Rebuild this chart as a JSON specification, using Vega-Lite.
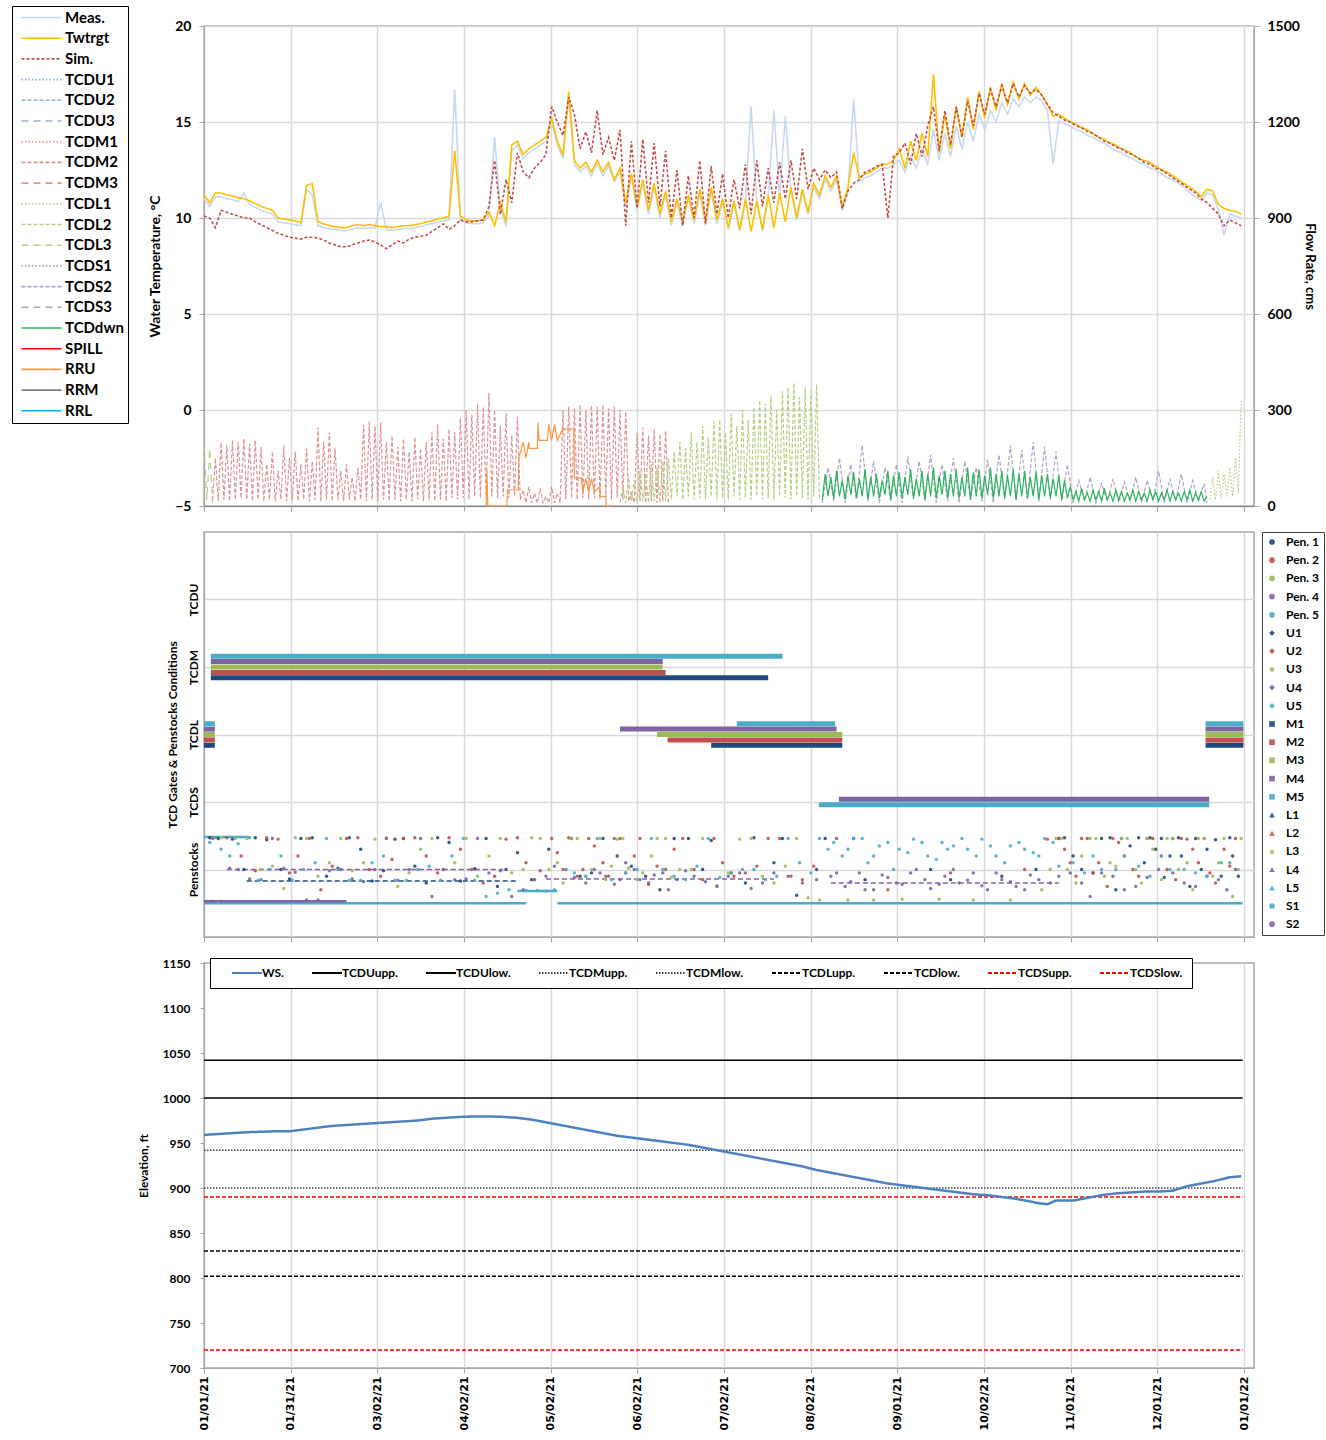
{
"$schema":"https://vega.github.io/schema/vega-lite/v6.json",
"padding":{"left":10,"top":4,"right":0,"bottom":2},
"background":"white",
"bounds":"flush",
"spacing":26,
"config":{
"font":"Lato",
"view":{"stroke":"#A6A6A6","strokeWidth":1.5},
"axis":{"labelFont":"Lato","labelFontWeight":"bold","labelColor":"#000","titleFont":"Lato","titleFontWeight":"bold","titleColor":"#000","gridColor":"#D9D9D9","gridWidth":1.5,"domainColor":"#A6A6A6","tickColor":"#A6A6A6"},
"legend":{"labelFont":"Lato","labelFontWeight":"bold","labelColor":"#000"}
},
"resolve":{"scale":{"x":"independent","y":"independent","color":"independent","strokeDash":"independent","shape":"independent"},"legend":{"color":"independent","strokeDash":"independent","shape":"independent"}},
"vconcat":[
{
"width":1050,"height":480,
"layer":[
{
"data":{"values":[
{"d":0,"Meas":11.0,"Twtrgt":11.2,"Sim":10.1},{"d":2,"Meas":10.6,"Twtrgt":10.8,"Sim":10.0},{"d":4,"Meas":11.1,"Twtrgt":11.3,"Sim":9.5},{"d":6,"Meas":11.1,"Twtrgt":11.3,"Sim":10.4},{"d":8,"Meas":11.0,"Twtrgt":11.2,"Sim":10.3},{"d":10,"Meas":10.95,"Twtrgt":11.15,"Sim":10.2},{"d":12,"Meas":10.85,"Twtrgt":11.05,"Sim":10.1},{"d":14,"Meas":11.3,"Twtrgt":11.0,"Sim":10.0},{"d":16,"Meas":10.7,"Twtrgt":10.9,"Sim":10.0},{"d":18,"Meas":10.55,"Twtrgt":10.75,"Sim":9.8},
{"d":20,"Meas":10.4,"Twtrgt":10.6,"Sim":9.65},{"d":22,"Meas":10.3,"Twtrgt":10.5,"Sim":9.5},{"d":24,"Meas":10.2,"Twtrgt":10.4,"Sim":9.35},{"d":26,"Meas":9.8,"Twtrgt":10.0,"Sim":9.2},{"d":28,"Meas":9.75,"Twtrgt":9.95,"Sim":9.1},{"d":30,"Meas":9.7,"Twtrgt":9.9,"Sim":9.0},{"d":32,"Meas":9.65,"Twtrgt":9.85,"Sim":8.95},{"d":34,"Meas":9.6,"Twtrgt":9.75,"Sim":8.9},{"d":36,"Meas":11.5,"Twtrgt":11.7,"Sim":9.0},{"d":38,"Meas":11.2,"Twtrgt":11.8,"Sim":9.0},
{"d":40,"Meas":9.6,"Twtrgt":9.8,"Sim":8.95},{"d":42,"Meas":9.5,"Twtrgt":9.7,"Sim":8.85},{"d":44,"Meas":9.45,"Twtrgt":9.6,"Sim":8.7},{"d":46,"Meas":9.4,"Twtrgt":9.55,"Sim":8.6},{"d":48,"Meas":9.35,"Twtrgt":9.5,"Sim":8.5},{"d":50,"Meas":9.35,"Twtrgt":9.5,"Sim":8.5},{"d":52,"Meas":9.4,"Twtrgt":9.6,"Sim":8.6},{"d":54,"Meas":9.5,"Twtrgt":9.65,"Sim":8.7},{"d":56,"Meas":9.45,"Twtrgt":9.6,"Sim":8.8},{"d":58,"Meas":9.5,"Twtrgt":9.65,"Sim":8.85},
{"d":60,"Meas":9.45,"Twtrgt":9.6,"Sim":8.75},{"d":62,"Meas":10.8,"Twtrgt":9.55,"Sim":8.6},{"d":64,"Meas":9.4,"Twtrgt":9.55,"Sim":8.4},{"d":66,"Meas":9.35,"Twtrgt":9.5,"Sim":8.6},{"d":68,"Meas":9.4,"Twtrgt":9.55,"Sim":8.8},{"d":70,"Meas":9.45,"Twtrgt":9.6,"Sim":8.7},{"d":72,"Meas":9.45,"Twtrgt":9.6,"Sim":8.9},{"d":74,"Meas":9.5,"Twtrgt":9.65,"Sim":9.0},{"d":76,"Meas":9.55,"Twtrgt":9.7,"Sim":9.05},{"d":78,"Meas":9.65,"Twtrgt":9.8,"Sim":9.1},
{"d":80,"Meas":9.7,"Twtrgt":9.85,"Sim":9.3},{"d":82,"Meas":9.8,"Twtrgt":9.95,"Sim":9.5},{"d":84,"Meas":9.85,"Twtrgt":10.0,"Sim":9.7},{"d":86,"Meas":9.9,"Twtrgt":10.1,"Sim":9.4},{"d":88,"Meas":16.7,"Twtrgt":13.5,"Sim":9.6},{"d":90,"Meas":9.9,"Twtrgt":10.1,"Sim":9.9},{"d":92,"Meas":9.75,"Twtrgt":9.9,"Sim":9.8},{"d":94,"Meas":9.7,"Twtrgt":9.85,"Sim":9.8},{"d":96,"Meas":9.7,"Twtrgt":9.85,"Sim":9.85},{"d":98,"Meas":9.75,"Twtrgt":9.9,"Sim":9.9},
{"d":100,"Meas":10.1,"Twtrgt":10.3,"Sim":10.6},{"d":102,"Meas":14.2,"Twtrgt":9.6,"Sim":13.0},{"d":104,"Meas":10.5,"Twtrgt":10.8,"Sim":10.2},{"d":106,"Meas":9.6,"Twtrgt":9.8,"Sim":12.0},{"d":108,"Meas":13.5,"Twtrgt":13.8,"Sim":10.8},{"d":110,"Meas":13.8,"Twtrgt":14.0,"Sim":13.4},{"d":112,"Meas":13.1,"Twtrgt":13.3,"Sim":12.4},{"d":114,"Meas":13.4,"Twtrgt":13.6,"Sim":12.1},{"d":116,"Meas":13.6,"Twtrgt":13.8,"Sim":12.6},{"d":118,"Meas":13.8,"Twtrgt":14.0,"Sim":12.9},
{"d":120,"Meas":14.0,"Twtrgt":14.2,"Sim":13.3},{"d":122,"Meas":15.0,"Twtrgt":15.2,"Sim":15.8},{"d":124,"Meas":13.8,"Twtrgt":14.0,"Sim":15.0},{"d":126,"Meas":13.1,"Twtrgt":13.3,"Sim":14.3},{"d":128,"Meas":16.2,"Twtrgt":16.6,"Sim":16.3},{"d":130,"Meas":12.8,"Twtrgt":13.0,"Sim":15.4},{"d":132,"Meas":12.4,"Twtrgt":12.6,"Sim":13.6},{"d":134,"Meas":12.7,"Twtrgt":12.9,"Sim":14.5},{"d":136,"Meas":12.2,"Twtrgt":12.4,"Sim":13.4},{"d":138,"Meas":12.8,"Twtrgt":13.0,"Sim":15.6},
{"d":140,"Meas":12.2,"Twtrgt":12.4,"Sim":13.3},{"d":142,"Meas":12.7,"Twtrgt":12.9,"Sim":14.2},{"d":144,"Meas":11.9,"Twtrgt":12.0,"Sim":13.0},{"d":146,"Meas":12.4,"Twtrgt":12.6,"Sim":14.6},{"d":148,"Meas":10.6,"Twtrgt":10.8,"Sim":9.6},{"d":150,"Meas":12.1,"Twtrgt":12.3,"Sim":14.0},{"d":152,"Meas":10.4,"Twtrgt":10.6,"Sim":10.5},{"d":154,"Meas":11.8,"Twtrgt":12.0,"Sim":14.1},{"d":156,"Meas":10.2,"Twtrgt":10.4,"Sim":10.8},{"d":158,"Meas":11.6,"Twtrgt":11.8,"Sim":13.9},
{"d":160,"Meas":10.0,"Twtrgt":10.2,"Sim":10.6},{"d":162,"Meas":11.2,"Twtrgt":11.4,"Sim":13.5},{"d":164,"Meas":9.6,"Twtrgt":9.8,"Sim":10.0},{"d":166,"Meas":10.8,"Twtrgt":11.0,"Sim":12.5},{"d":168,"Meas":9.6,"Twtrgt":9.8,"Sim":9.6},{"d":170,"Meas":11.0,"Twtrgt":11.2,"Sim":12.2},{"d":172,"Meas":9.7,"Twtrgt":9.9,"Sim":10.0},{"d":174,"Meas":11.3,"Twtrgt":11.5,"Sim":13.0},{"d":176,"Meas":9.6,"Twtrgt":9.8,"Sim":9.7},{"d":178,"Meas":11.4,"Twtrgt":11.6,"Sim":12.7},
{"d":180,"Meas":9.7,"Twtrgt":9.9,"Sim":10.2},{"d":182,"Meas":10.8,"Twtrgt":11.0,"Sim":12.3},{"d":184,"Meas":9.4,"Twtrgt":9.5,"Sim":10.0},{"d":186,"Meas":10.7,"Twtrgt":10.9,"Sim":12.0},{"d":188,"Meas":9.3,"Twtrgt":9.4,"Sim":10.5},{"d":190,"Meas":10.8,"Twtrgt":11.0,"Sim":12.8},{"d":192,"Meas":15.8,"Twtrgt":9.3,"Sim":10.2},{"d":194,"Meas":10.8,"Twtrgt":10.9,"Sim":13.0},{"d":196,"Meas":9.3,"Twtrgt":9.4,"Sim":10.6},{"d":198,"Meas":11.0,"Twtrgt":11.2,"Sim":12.6},
{"d":200,"Meas":15.6,"Twtrgt":9.5,"Sim":10.8},{"d":202,"Meas":11.1,"Twtrgt":11.3,"Sim":12.9},{"d":204,"Meas":15.3,"Twtrgt":9.8,"Sim":11.0},{"d":206,"Meas":11.4,"Twtrgt":11.6,"Sim":13.0},{"d":208,"Meas":9.9,"Twtrgt":10.0,"Sim":11.0},{"d":210,"Meas":11.3,"Twtrgt":11.5,"Sim":13.6},{"d":212,"Meas":10.2,"Twtrgt":10.3,"Sim":11.5},{"d":214,"Meas":11.6,"Twtrgt":11.8,"Sim":12.6},{"d":216,"Meas":11.0,"Twtrgt":11.2,"Sim":12.0},{"d":218,"Meas":12.0,"Twtrgt":12.2,"Sim":12.5},
{"d":220,"Meas":11.4,"Twtrgt":11.6,"Sim":12.1},{"d":222,"Meas":12.0,"Twtrgt":12.2,"Sim":12.4},{"d":224,"Meas":10.4,"Twtrgt":10.6,"Sim":10.5},{"d":226,"Meas":11.4,"Twtrgt":11.6,"Sim":11.4},{"d":228,"Meas":16.2,"Twtrgt":13.4,"Sim":11.8},{"d":230,"Meas":11.9,"Twtrgt":12.1,"Sim":12.0},{"d":232,"Meas":12.1,"Twtrgt":12.3,"Sim":12.4},{"d":234,"Meas":12.2,"Twtrgt":12.4,"Sim":12.5},{"d":236,"Meas":12.4,"Twtrgt":12.6,"Sim":12.7},{"d":238,"Meas":12.6,"Twtrgt":12.8,"Sim":12.8},
{"d":240,"Meas":12.6,"Twtrgt":12.8,"Sim":10.0},{"d":242,"Meas":12.8,"Twtrgt":13.0,"Sim":13.2},{"d":244,"Meas":13.0,"Twtrgt":13.6,"Sim":13.4},{"d":246,"Meas":12.4,"Twtrgt":12.6,"Sim":13.9},{"d":248,"Meas":13.2,"Twtrgt":14.0,"Sim":12.8},{"d":250,"Meas":12.6,"Twtrgt":13.0,"Sim":14.4},{"d":252,"Meas":13.6,"Twtrgt":14.4,"Sim":13.2},{"d":254,"Meas":12.8,"Twtrgt":13.2,"Sim":14.8},{"d":256,"Meas":14.6,"Twtrgt":17.5,"Sim":15.8},{"d":258,"Meas":13.0,"Twtrgt":13.4,"Sim":13.5},
{"d":260,"Meas":14.4,"Twtrgt":15.4,"Sim":15.6},{"d":262,"Meas":13.2,"Twtrgt":13.6,"Sim":13.8},{"d":264,"Meas":14.8,"Twtrgt":15.8,"Sim":15.8},{"d":266,"Meas":13.6,"Twtrgt":14.2,"Sim":14.2},{"d":268,"Meas":15.0,"Twtrgt":16.3,"Sim":16.1},{"d":270,"Meas":14.0,"Twtrgt":14.6,"Sim":14.8},{"d":272,"Meas":15.4,"Twtrgt":16.6,"Sim":16.5},{"d":274,"Meas":14.6,"Twtrgt":15.2,"Sim":15.4},{"d":276,"Meas":15.6,"Twtrgt":16.8,"Sim":16.7},{"d":278,"Meas":15.0,"Twtrgt":15.6,"Sim":15.8},
{"d":280,"Meas":16.0,"Twtrgt":17.0,"Sim":16.9},{"d":282,"Meas":15.4,"Twtrgt":15.9,"Sim":16.0},{"d":284,"Meas":16.2,"Twtrgt":17.1,"Sim":17.0},{"d":286,"Meas":15.8,"Twtrgt":16.2,"Sim":16.3},{"d":288,"Meas":16.3,"Twtrgt":17.0,"Sim":16.9},{"d":290,"Meas":16.0,"Twtrgt":16.4,"Sim":16.5},{"d":292,"Meas":16.3,"Twtrgt":16.8,"Sim":16.7},{"d":294,"Meas":16.1,"Twtrgt":16.4,"Sim":16.4},{"d":296,"Meas":15.6,"Twtrgt":15.9,"Sim":15.9},{"d":298,"Meas":12.8,"Twtrgt":15.3,"Sim":15.5},
{"d":300,"Meas":15.1,"Twtrgt":15.4,"Sim":15.3},{"d":302,"Meas":14.9,"Twtrgt":15.2,"Sim":15.1},{"d":304,"Meas":14.8,"Twtrgt":15.0,"Sim":15.0},{"d":306,"Meas":14.6,"Twtrgt":14.9,"Sim":14.8},{"d":308,"Meas":14.5,"Twtrgt":14.7,"Sim":14.7},{"d":310,"Meas":14.3,"Twtrgt":14.6,"Sim":14.5},{"d":312,"Meas":14.2,"Twtrgt":14.4,"Sim":14.4},{"d":314,"Meas":14.0,"Twtrgt":14.2,"Sim":14.2},{"d":316,"Meas":13.9,"Twtrgt":14.1,"Sim":14.0},{"d":318,"Meas":13.7,"Twtrgt":13.9,"Sim":13.9},
{"d":320,"Meas":13.5,"Twtrgt":13.8,"Sim":13.7},{"d":322,"Meas":13.4,"Twtrgt":13.6,"Sim":13.6},{"d":324,"Meas":13.2,"Twtrgt":13.5,"Sim":13.4},{"d":326,"Meas":13.1,"Twtrgt":13.3,"Sim":13.3},{"d":328,"Meas":12.9,"Twtrgt":13.1,"Sim":13.1},{"d":330,"Meas":12.8,"Twtrgt":13.0,"Sim":12.9},{"d":332,"Meas":12.6,"Twtrgt":12.9,"Sim":12.8},{"d":334,"Meas":12.5,"Twtrgt":12.7,"Sim":12.6},{"d":336,"Meas":12.3,"Twtrgt":12.5,"Sim":12.5},{"d":338,"Meas":12.1,"Twtrgt":12.4,"Sim":12.3},
{"d":340,"Meas":12.0,"Twtrgt":12.2,"Sim":12.1},{"d":342,"Meas":11.8,"Twtrgt":12.0,"Sim":11.9},{"d":344,"Meas":11.6,"Twtrgt":11.8,"Sim":11.7},{"d":346,"Meas":11.3,"Twtrgt":11.6,"Sim":11.5},{"d":348,"Meas":11.1,"Twtrgt":11.4,"Sim":11.3},{"d":350,"Meas":10.9,"Twtrgt":11.1,"Sim":11.0},{"d":352,"Meas":11.3,"Twtrgt":11.5,"Sim":10.8},{"d":354,"Meas":11.2,"Twtrgt":11.4,"Sim":10.5},{"d":356,"Meas":10.4,"Twtrgt":10.7,"Sim":10.2},{"d":358,"Meas":9.1,"Twtrgt":10.5,"Sim":9.6},
{"d":360,"Meas":10.2,"Twtrgt":10.4,"Sim":9.9},{"d":362,"Meas":10.1,"Twtrgt":10.35,"Sim":9.75},{"d":364,"Meas":10.0,"Twtrgt":10.2,"Sim":9.6}
]},
"transform":[{"fold":["Meas","Twtrgt","Sim"],"as":["k","v"]}],
"mark":{"type":"line","strokeWidth":1.6},
"encoding":{
"x":{"field":"d","type":"quantitative","scale":{"domain":[0,368.5],"nice":false,"zero":false},"axis":{"values":[0,30.4167,60.8333,91.25,121.6667,152.0833,182.5,212.9167,243.3333,273.75,304.1667,334.5833,365],"labels":false,"title":null,"grid":true,"tickSize":5,"domainColor":"#808080"}},
"y":{"field":"v","type":"quantitative","scale":{"domain":[-5,20],"nice":false,"zero":false},"axis":{"orient":"left","values":[-5,0,5,10,15,20],"grid":true,"title":"Water Temperature, °C","labelFontSize":14,"titleFontSize":14,"tickSize":5,"labelPadding":8,"titlePadding":12}},
"color":{"field":"k","type":"nominal","scale":{"domain":["Meas","Twtrgt","Sim","TCDU1","TCDU2","TCDU3","TCDM1","TCDM2","TCDM3","TCDL1","TCDL2","TCDL3","TCDS1","TCDS2","TCDS3","TCDdwn","SPILL","RRU","RRM","RRL"],"range":["#C6D9F0","#FFC000","#C0504D","#95B3D7","#95B3D7","#95B3D7","#D99694","#D99694","#D99694","#B5CF82","#B5CF82","#B5CF82","#B3A2C7","#B3A2C7","#B3A2C7","#2DB35F","#FF0000","#F79646","#7F7F7F","#00B0F0"]},"legend":{"orient":"none","legendX":-192,"legendY":-20,"title":null,"strokeColor":"#000","fillColor":"#fff","padding":4,"symbolType":"M-5,0L5,0","symbolSize":64,"symbolOffset":18,"labelOffset":16,"symbolStrokeWidth":1.6,"labelFontSize":15,"rowPadding":4.7,"labelExpr":"datum.label == 'Meas' ? 'Meas.' : (datum.label == 'Sim' ? 'Sim.' : datum.label)"}},
"strokeDash":{"field":"k","type":"nominal","scale":{"domain":["Meas","Twtrgt","Sim","TCDU1","TCDU2","TCDU3","TCDM1","TCDM2","TCDM3","TCDL1","TCDL2","TCDL3","TCDS1","TCDS2","TCDS3","TCDdwn","SPILL","RRU","RRM","RRL"],"range":[[1,0],[1,0],[3,2],[1.5,2],[4,2],[7,5],[1.5,2],[4,2],[7,5],[1.5,2],[4,2],[7,5],[1.5,2],[4,2],[7,5],[1,0],[1,0],[1,0],[1,0],[1,0]]},"legend":{"orient":"none","legendX":-192,"legendY":-20,"title":null,"strokeColor":"#000","fillColor":"#fff","padding":4,"symbolType":"M-5,0L5,0","symbolSize":64,"symbolOffset":18,"labelOffset":16,"symbolStrokeWidth":1.6,"labelFontSize":15,"rowPadding":4.7,"labelExpr":"datum.label == 'Meas' ? 'Meas.' : (datum.label == 'Sim' ? 'Sim.' : datum.label)"}}
}
},
{
"data":{"values":[
{"d":0,"k":"TCDL3","f":190},{"d":1,"k":"TCDL3","f":20},{"d":2,"k":"TCDL3","f":180},{"d":3,"k":"TCDL3","f":10},
{"d":3,"k":"TCDM2","f":20},{"d":4,"k":"TCDM2","f":150},{"d":5,"k":"TCDM2","f":15},{"d":6,"k":"TCDM2","f":198},{"d":7,"k":"TCDM2","f":20},{"d":8,"k":"TCDM2","f":190},{"d":9,"k":"TCDM2","f":15},{"d":10,"k":"TCDM2","f":205},{"d":11,"k":"TCDM2","f":20},{"d":12,"k":"TCDM2","f":200},{"d":13,"k":"TCDM2","f":25},{"d":14,"k":"TCDM2","f":210},{"d":15,"k":"TCDM2","f":20},{"d":16,"k":"TCDM2","f":195},{"d":17,"k":"TCDM2","f":15},{"d":18,"k":"TCDM2","f":205},{"d":19,"k":"TCDM2","f":20},{"d":20,"k":"TCDM2","f":185},
{"d":21,"k":"TCDM2","f":15},{"d":22,"k":"TCDM2","f":130},{"d":23,"k":"TCDM2","f":20},{"d":24,"k":"TCDM2","f":170},{"d":25,"k":"TCDM2","f":15},{"d":26,"k":"TCDM2","f":110},{"d":27,"k":"TCDM2","f":20},{"d":28,"k":"TCDM2","f":190},{"d":29,"k":"TCDM2","f":15},{"d":30,"k":"TCDM2","f":150},{"d":31,"k":"TCDM2","f":20},{"d":32,"k":"TCDM2","f":170},{"d":33,"k":"TCDM2","f":15},{"d":34,"k":"TCDM2","f":130},{"d":35,"k":"TCDM2","f":20},{"d":36,"k":"TCDM2","f":180},{"d":37,"k":"TCDM2","f":15},{"d":38,"k":"TCDM2","f":140},{"d":39,"k":"TCDM2","f":20},{"d":40,"k":"TCDM2","f":245},
{"d":41,"k":"TCDM2","f":15},{"d":42,"k":"TCDM2","f":200},{"d":43,"k":"TCDM2","f":20},{"d":44,"k":"TCDM2","f":230},{"d":45,"k":"TCDM2","f":15},{"d":46,"k":"TCDM2","f":180},{"d":47,"k":"TCDM2","f":20},{"d":48,"k":"TCDM2","f":110},{"d":49,"k":"TCDM2","f":15},{"d":50,"k":"TCDM2","f":130},{"d":51,"k":"TCDM2","f":20},{"d":52,"k":"TCDM2","f":90},{"d":53,"k":"TCDM2","f":15},{"d":54,"k":"TCDM2","f":120},{"d":55,"k":"TCDM2","f":20},{"d":56,"k":"TCDM2","f":255},{"d":57,"k":"TCDM2","f":15},{"d":58,"k":"TCDM2","f":265},{"d":59,"k":"TCDM2","f":20},{"d":60,"k":"TCDM2","f":250},
{"d":61,"k":"TCDM2","f":15},{"d":62,"k":"TCDM2","f":260},{"d":63,"k":"TCDM2","f":20},{"d":64,"k":"TCDM2","f":200},{"d":65,"k":"TCDM2","f":15},{"d":66,"k":"TCDM2","f":220},{"d":67,"k":"TCDM2","f":20},{"d":68,"k":"TCDM2","f":185},{"d":69,"k":"TCDM2","f":15},{"d":70,"k":"TCDM2","f":210},{"d":71,"k":"TCDM2","f":20},{"d":72,"k":"TCDM2","f":170},{"d":73,"k":"TCDM2","f":15},{"d":74,"k":"TCDM2","f":215},{"d":75,"k":"TCDM2","f":20},{"d":76,"k":"TCDM2","f":180},{"d":77,"k":"TCDM2","f":15},{"d":78,"k":"TCDM2","f":200},{"d":79,"k":"TCDM2","f":20},{"d":80,"k":"TCDM2","f":230},
{"d":81,"k":"TCDM2","f":15},{"d":82,"k":"TCDM2","f":255},{"d":83,"k":"TCDM2","f":20},{"d":84,"k":"TCDM2","f":210},{"d":85,"k":"TCDM2","f":15},{"d":86,"k":"TCDM2","f":240},{"d":87,"k":"TCDM2","f":25},{"d":88,"k":"TCDM2","f":230},{"d":89,"k":"TCDM2","f":20},{"d":90,"k":"TCDM2","f":275},{"d":91,"k":"TCDM2","f":25},{"d":92,"k":"TCDM2","f":300},{"d":93,"k":"TCDM2","f":20},{"d":94,"k":"TCDM2","f":285},{"d":95,"k":"TCDM2","f":30},{"d":96,"k":"TCDM2","f":318},{"d":97,"k":"TCDM2","f":25},{"d":98,"k":"TCDM2","f":310},{"d":99,"k":"TCDM2","f":30},{"d":100,"k":"TCDM2","f":354},
{"d":101,"k":"TCDM2","f":30},{"d":102,"k":"TCDM2","f":300},{"d":103,"k":"TCDM2","f":25},{"d":104,"k":"TCDM2","f":250},{"d":105,"k":"TCDM2","f":30},{"d":106,"k":"TCDM2","f":290},{"d":107,"k":"TCDM2","f":25},{"d":108,"k":"TCDM2","f":220},{"d":109,"k":"TCDM2","f":30},{"d":110,"k":"TCDM2","f":280},{"d":111,"k":"TCDM2","f":20},{"d":112,"k":"TCDM2","f":50},{"d":113,"k":"TCDM2","f":10},{"d":114,"k":"TCDM2","f":60},{"d":115,"k":"TCDM2","f":10},{"d":116,"k":"TCDM2","f":40},{"d":117,"k":"TCDM2","f":10},{"d":118,"k":"TCDM2","f":55},{"d":119,"k":"TCDM2","f":10},{"d":120,"k":"TCDM2","f":30},
{"d":121,"k":"TCDM2","f":10},{"d":122,"k":"TCDM2","f":60},{"d":123,"k":"TCDM2","f":10},{"d":124,"k":"TCDM2","f":40},{"d":125,"k":"TCDM2","f":10},{"d":126,"k":"TCDM2","f":300},{"d":127,"k":"TCDM2","f":20},{"d":128,"k":"TCDM2","f":310},{"d":129,"k":"TCDM2","f":25},{"d":130,"k":"TCDM2","f":305},{"d":131,"k":"TCDM2","f":20},{"d":132,"k":"TCDM2","f":318},{"d":133,"k":"TCDM2","f":25},{"d":134,"k":"TCDM2","f":300},{"d":135,"k":"TCDM2","f":20},{"d":136,"k":"TCDM2","f":315},{"d":137,"k":"TCDM2","f":25},{"d":138,"k":"TCDM2","f":310},{"d":139,"k":"TCDM2","f":20},{"d":140,"k":"TCDM2","f":318},
{"d":141,"k":"TCDM2","f":25},{"d":142,"k":"TCDM2","f":305},{"d":143,"k":"TCDM2","f":20},{"d":144,"k":"TCDM2","f":312},{"d":145,"k":"TCDM2","f":25},{"d":146,"k":"TCDM2","f":300},{"d":147,"k":"TCDM2","f":20},{"d":148,"k":"TCDM2","f":295},{"d":149,"k":"TCDM2","f":15},{"d":150,"k":"TCDM2","f":40},{"d":151,"k":"TCDM2","f":10},{"d":152,"k":"TCDM2","f":230},{"d":153,"k":"TCDM2","f":15},{"d":154,"k":"TCDM2","f":245},{"d":155,"k":"TCDM2","f":10},{"d":156,"k":"TCDM2","f":220},{"d":157,"k":"TCDM2","f":15},{"d":158,"k":"TCDM2","f":240},{"d":159,"k":"TCDM2","f":10},{"d":160,"k":"TCDM2","f":225},
{"d":161,"k":"TCDM2","f":15},{"d":162,"k":"TCDM2","f":235},{"d":163,"k":"TCDM2","f":10},
{"d":99,"k":"RRU","f":0},{"d":99.3,"k":"RRU","f":110},{"d":99.6,"k":"RRU","f":0},{"d":106.3,"k":"RRU","f":0},{"d":106.5,"k":"RRU","f":50},{"d":110.3,"k":"RRU","f":50},{"d":110.5,"k":"RRU","f":150},{"d":112,"k":"RRU","f":200},{"d":113,"k":"RRU","f":150},{"d":114,"k":"RRU","f":200},{"d":114.2,"k":"RRU","f":180},{"d":117,"k":"RRU","f":180},{"d":117.2,"k":"RRU","f":260},{"d":117.6,"k":"RRU","f":205},{"d":120.5,"k":"RRU","f":205},{"d":121,"k":"RRU","f":255},{"d":122,"k":"RRU","f":205},{"d":123,"k":"RRU","f":255},{"d":124,"k":"RRU","f":205},{"d":125.8,"k":"RRU","f":240},{"d":129.8,"k":"RRU","f":240},{"d":130,"k":"RRU","f":88},{"d":132.4,"k":"RRU","f":88},{"d":133,"k":"RRU","f":45},{"d":134,"k":"RRU","f":85},{"d":135,"k":"RRU","f":45},{"d":136,"k":"RRU","f":85},{"d":137,"k":"RRU","f":45},{"d":138.9,"k":"RRU","f":60},{"d":139,"k":"RRU","f":30},{"d":141,"k":"RRU","f":30},{"d":141.2,"k":"RRU","f":0},{"d":143,"k":"RRU","f":0},
{"d":146,"k":"TCDL2","f":10},{"d":147,"k":"TCDL2","f":60},{"d":148,"k":"TCDL2","f":10},{"d":149,"k":"TCDL2","f":90},{"d":150,"k":"TCDL2","f":15},{"d":151,"k":"TCDL2","f":80},{"d":152,"k":"TCDL2","f":10},{"d":153,"k":"TCDL2","f":110},{"d":154,"k":"TCDL2","f":15},{"d":155,"k":"TCDL2","f":100},{"d":156,"k":"TCDL2","f":10},{"d":157,"k":"TCDL2","f":130},{"d":158,"k":"TCDL2","f":15},{"d":159,"k":"TCDL2","f":120},{"d":160,"k":"TCDL2","f":10},{"d":161,"k":"TCDL2","f":140},{"d":162,"k":"TCDL2","f":15},{"d":163,"k":"TCDL2","f":150},{"d":164,"k":"TCDL2","f":20},{"d":165,"k":"TCDL2","f":170},
{"d":166,"k":"TCDL2","f":30},{"d":167,"k":"TCDL2","f":200},{"d":168,"k":"TCDL2","f":20},{"d":169,"k":"TCDL2","f":180},{"d":170,"k":"TCDL2","f":30},{"d":171,"k":"TCDL2","f":230},{"d":172,"k":"TCDL2","f":20},{"d":173,"k":"TCDL2","f":200},{"d":174,"k":"TCDL2","f":25},{"d":175,"k":"TCDL2","f":250},{"d":176,"k":"TCDL2","f":20},{"d":177,"k":"TCDL2","f":215},{"d":178,"k":"TCDL2","f":30},{"d":179,"k":"TCDL2","f":265},{"d":180,"k":"TCDL2","f":20},{"d":181,"k":"TCDL2","f":270},{"d":182,"k":"TCDL2","f":25},{"d":183,"k":"TCDL2","f":230},{"d":184,"k":"TCDL2","f":20},{"d":185,"k":"TCDL2","f":290},
{"d":186,"k":"TCDL2","f":30},{"d":187,"k":"TCDL2","f":250},{"d":188,"k":"TCDL2","f":20},{"d":189,"k":"TCDL2","f":300},{"d":190,"k":"TCDL2","f":25},{"d":191,"k":"TCDL2","f":270},{"d":192,"k":"TCDL2","f":20},{"d":193,"k":"TCDL2","f":310},{"d":194,"k":"TCDL2","f":30},{"d":195,"k":"TCDL2","f":330},{"d":196,"k":"TCDL2","f":20},{"d":197,"k":"TCDL2","f":320},{"d":198,"k":"TCDL2","f":25},{"d":199,"k":"TCDL2","f":345},{"d":200,"k":"TCDL2","f":20},{"d":201,"k":"TCDL2","f":300},{"d":202,"k":"TCDL2","f":30},{"d":203,"k":"TCDL2","f":360},{"d":204,"k":"TCDL2","f":25},{"d":205,"k":"TCDL2","f":370},
{"d":206,"k":"TCDL2","f":20},{"d":207,"k":"TCDL2","f":385},{"d":208,"k":"TCDL2","f":30},{"d":209,"k":"TCDL2","f":340},{"d":210,"k":"TCDL2","f":25},{"d":211,"k":"TCDL2","f":370},{"d":212,"k":"TCDL2","f":20},{"d":213,"k":"TCDL2","f":360},{"d":214,"k":"TCDL2","f":30},{"d":215,"k":"TCDL2","f":380},{"d":216,"k":"TCDL2","f":20},
{"d":217,"k":"TCDS2","f":10},{"d":219,"k":"TCDS2","f":120},{"d":221,"k":"TCDS2","f":15},{"d":223,"k":"TCDS2","f":150},{"d":225,"k":"TCDS2","f":10},{"d":227,"k":"TCDS2","f":130},{"d":229,"k":"TCDS2","f":20},{"d":231,"k":"TCDS2","f":190},{"d":233,"k":"TCDS2","f":15},{"d":235,"k":"TCDS2","f":140},{"d":237,"k":"TCDS2","f":10},{"d":239,"k":"TCDS2","f":120},{"d":241,"k":"TCDS2","f":15},{"d":243,"k":"TCDS2","f":130},{"d":245,"k":"TCDS2","f":10},{"d":247,"k":"TCDS2","f":155},{"d":249,"k":"TCDS2","f":20},{"d":251,"k":"TCDS2","f":140},{"d":253,"k":"TCDS2","f":15},{"d":255,"k":"TCDS2","f":160},
{"d":257,"k":"TCDS2","f":10},{"d":259,"k":"TCDS2","f":130},{"d":261,"k":"TCDS2","f":15},{"d":263,"k":"TCDS2","f":150},{"d":265,"k":"TCDS2","f":10},{"d":267,"k":"TCDS2","f":140},{"d":269,"k":"TCDS2","f":20},{"d":271,"k":"TCDS2","f":120},{"d":273,"k":"TCDS2","f":15},{"d":275,"k":"TCDS2","f":145},{"d":277,"k":"TCDS2","f":10},{"d":279,"k":"TCDS2","f":160},{"d":281,"k":"TCDS2","f":20},{"d":283,"k":"TCDS2","f":190},{"d":285,"k":"TCDS2","f":15},{"d":287,"k":"TCDS2","f":175},{"d":289,"k":"TCDS2","f":20},{"d":291,"k":"TCDS2","f":200},{"d":293,"k":"TCDS2","f":15},{"d":295,"k":"TCDS2","f":185},
{"d":297,"k":"TCDS2","f":20},{"d":299,"k":"TCDS2","f":170},{"d":301,"k":"TCDS2","f":15},{"d":303,"k":"TCDS2","f":130},{"d":305,"k":"TCDS2","f":10},{"d":307,"k":"TCDS2","f":80},{"d":309,"k":"TCDS2","f":15},{"d":311,"k":"TCDS2","f":90},{"d":313,"k":"TCDS2","f":10},{"d":315,"k":"TCDS2","f":70},{"d":317,"k":"TCDS2","f":15},{"d":319,"k":"TCDS2","f":85},{"d":321,"k":"TCDS2","f":10},{"d":323,"k":"TCDS2","f":75},{"d":325,"k":"TCDS2","f":15},{"d":327,"k":"TCDS2","f":90},{"d":329,"k":"TCDS2","f":10},{"d":331,"k":"TCDS2","f":80},{"d":333,"k":"TCDS2","f":15},{"d":335,"k":"TCDS2","f":110},
{"d":337,"k":"TCDS2","f":10},{"d":339,"k":"TCDS2","f":85},{"d":341,"k":"TCDS2","f":15},{"d":343,"k":"TCDS2","f":100},{"d":345,"k":"TCDS2","f":10},{"d":347,"k":"TCDS2","f":80},{"d":349,"k":"TCDS2","f":15},{"d":351,"k":"TCDS2","f":70},{"d":352,"k":"TCDS2","f":10},
{"d":217,"k":"TCDdwn","f":20},{"d":218,"k":"TCDdwn","f":100},{"d":219,"k":"TCDdwn","f":30},{"d":220,"k":"TCDdwn","f":90},{"d":221,"k":"TCDdwn","f":25},{"d":222,"k":"TCDdwn","f":110},{"d":223,"k":"TCDdwn","f":30},{"d":224,"k":"TCDdwn","f":80},{"d":225,"k":"TCDdwn","f":20},{"d":226,"k":"TCDdwn","f":95},{"d":227,"k":"TCDdwn","f":35},{"d":228,"k":"TCDdwn","f":105},{"d":229,"k":"TCDdwn","f":25},{"d":230,"k":"TCDdwn","f":85},{"d":231,"k":"TCDdwn","f":30},{"d":232,"k":"TCDdwn","f":115},{"d":233,"k":"TCDdwn","f":20},{"d":234,"k":"TCDdwn","f":90},{"d":235,"k":"TCDdwn","f":30},{"d":236,"k":"TCDdwn","f":100},
{"d":237,"k":"TCDdwn","f":25},{"d":238,"k":"TCDdwn","f":80},{"d":239,"k":"TCDdwn","f":35},{"d":240,"k":"TCDdwn","f":110},{"d":241,"k":"TCDdwn","f":20},{"d":242,"k":"TCDdwn","f":95},{"d":243,"k":"TCDdwn","f":30},{"d":244,"k":"TCDdwn","f":105},{"d":245,"k":"TCDdwn","f":25},{"d":246,"k":"TCDdwn","f":90},{"d":247,"k":"TCDdwn","f":35},{"d":248,"k":"TCDdwn","f":115},{"d":249,"k":"TCDdwn","f":25},{"d":250,"k":"TCDdwn","f":85},{"d":251,"k":"TCDdwn","f":30},{"d":252,"k":"TCDdwn","f":110},{"d":253,"k":"TCDdwn","f":20},{"d":254,"k":"TCDdwn","f":100},{"d":255,"k":"TCDdwn","f":30},{"d":256,"k":"TCDdwn","f":120},
{"d":257,"k":"TCDdwn","f":25},{"d":258,"k":"TCDdwn","f":95},{"d":259,"k":"TCDdwn","f":35},{"d":260,"k":"TCDdwn","f":110},{"d":261,"k":"TCDdwn","f":25},{"d":262,"k":"TCDdwn","f":100},{"d":263,"k":"TCDdwn","f":30},{"d":264,"k":"TCDdwn","f":115},{"d":265,"k":"TCDdwn","f":25},{"d":266,"k":"TCDdwn","f":90},{"d":267,"k":"TCDdwn","f":30},{"d":268,"k":"TCDdwn","f":120},{"d":269,"k":"TCDdwn","f":20},{"d":270,"k":"TCDdwn","f":105},{"d":271,"k":"TCDdwn","f":30},{"d":272,"k":"TCDdwn","f":115},{"d":273,"k":"TCDdwn","f":25},{"d":274,"k":"TCDdwn","f":95},{"d":275,"k":"TCDdwn","f":35},{"d":276,"k":"TCDdwn","f":120},
{"d":277,"k":"TCDdwn","f":25},{"d":278,"k":"TCDdwn","f":100},{"d":279,"k":"TCDdwn","f":30},{"d":280,"k":"TCDdwn","f":110},{"d":281,"k":"TCDdwn","f":25},{"d":282,"k":"TCDdwn","f":95},{"d":283,"k":"TCDdwn","f":30},{"d":284,"k":"TCDdwn","f":115},{"d":285,"k":"TCDdwn","f":20},{"d":286,"k":"TCDdwn","f":100},{"d":287,"k":"TCDdwn","f":30},{"d":288,"k":"TCDdwn","f":110},{"d":289,"k":"TCDdwn","f":25},{"d":290,"k":"TCDdwn","f":90},{"d":291,"k":"TCDdwn","f":30},{"d":292,"k":"TCDdwn","f":105},{"d":293,"k":"TCDdwn","f":20},{"d":294,"k":"TCDdwn","f":95},{"d":295,"k":"TCDdwn","f":30},{"d":296,"k":"TCDdwn","f":100},
{"d":297,"k":"TCDdwn","f":25},{"d":298,"k":"TCDdwn","f":85},{"d":299,"k":"TCDdwn","f":30},{"d":300,"k":"TCDdwn","f":95},{"d":301,"k":"TCDdwn","f":20},{"d":302,"k":"TCDdwn","f":80},{"d":303,"k":"TCDdwn","f":25},{"d":304,"k":"TCDdwn","f":60},{"d":305,"k":"TCDdwn","f":20},{"d":306,"k":"TCDdwn","f":45},{"d":307,"k":"TCDdwn","f":15},{"d":308,"k":"TCDdwn","f":55},{"d":309,"k":"TCDdwn","f":20},{"d":310,"k":"TCDdwn","f":40},{"d":311,"k":"TCDdwn","f":15},{"d":312,"k":"TCDdwn","f":50},{"d":313,"k":"TCDdwn","f":20},{"d":314,"k":"TCDdwn","f":45},{"d":315,"k":"TCDdwn","f":15},{"d":316,"k":"TCDdwn","f":55},
{"d":317,"k":"TCDdwn","f":20},{"d":318,"k":"TCDdwn","f":40},{"d":319,"k":"TCDdwn","f":15},{"d":320,"k":"TCDdwn","f":50},{"d":321,"k":"TCDdwn","f":20},{"d":322,"k":"TCDdwn","f":45},{"d":323,"k":"TCDdwn","f":15},{"d":324,"k":"TCDdwn","f":40},{"d":325,"k":"TCDdwn","f":20},{"d":326,"k":"TCDdwn","f":50},{"d":327,"k":"TCDdwn","f":15},{"d":328,"k":"TCDdwn","f":45},{"d":329,"k":"TCDdwn","f":20},{"d":330,"k":"TCDdwn","f":40},{"d":331,"k":"TCDdwn","f":15},{"d":332,"k":"TCDdwn","f":50},{"d":333,"k":"TCDdwn","f":20},{"d":334,"k":"TCDdwn","f":45},{"d":335,"k":"TCDdwn","f":15},{"d":336,"k":"TCDdwn","f":40},
{"d":337,"k":"TCDdwn","f":20},{"d":338,"k":"TCDdwn","f":50},{"d":339,"k":"TCDdwn","f":15},{"d":340,"k":"TCDdwn","f":45},{"d":341,"k":"TCDdwn","f":20},{"d":342,"k":"TCDdwn","f":40},{"d":343,"k":"TCDdwn","f":15},{"d":344,"k":"TCDdwn","f":45},{"d":345,"k":"TCDdwn","f":20},{"d":346,"k":"TCDdwn","f":50},{"d":347,"k":"TCDdwn","f":15},{"d":348,"k":"TCDdwn","f":40},{"d":349,"k":"TCDdwn","f":20},{"d":350,"k":"TCDdwn","f":45},{"d":351,"k":"TCDdwn","f":15},{"d":352,"k":"TCDdwn","f":30},
{"d":353,"k":"TCDL1","f":20},{"d":354,"k":"TCDL1","f":90},{"d":355,"k":"TCDL1","f":20},{"d":356,"k":"TCDL1","f":110},{"d":357,"k":"TCDL1","f":25},{"d":358,"k":"TCDL1","f":100},{"d":359,"k":"TCDL1","f":30},{"d":360,"k":"TCDL1","f":120},{"d":361,"k":"TCDL1","f":30},{"d":362,"k":"TCDL1","f":150},{"d":363,"k":"TCDL1","f":40},{"d":364,"k":"TCDL1","f":330}
]},
"mark":{"type":"line","strokeWidth":1.2},
"encoding":{
"x":{"field":"d","type":"quantitative","scale":{"domain":[0,368.5],"nice":false,"zero":false}},
"y":{"field":"f","type":"quantitative","scale":{"domain":[0,1500],"nice":false,"zero":false},"axis":{"orient":"right","values":[0,300,600,900,1200,1500],"format":"d","grid":false,"title":"Flow Rate, cms","labelFontSize":14,"titleFontSize":13,"tickSize":5,"labelPadding":8,"titlePadding":3}},
"color":{"field":"k","type":"nominal","scale":{"domain":["Meas","Twtrgt","Sim","TCDU1","TCDU2","TCDU3","TCDM1","TCDM2","TCDM3","TCDL1","TCDL2","TCDL3","TCDS1","TCDS2","TCDS3","TCDdwn","SPILL","RRU","RRM","RRL"],"range":["#C6D9F0","#FFC000","#C0504D","#95B3D7","#95B3D7","#95B3D7","#D99694","#D99694","#D99694","#B5CF82","#B5CF82","#B5CF82","#B3A2C7","#B3A2C7","#B3A2C7","#2DB35F","#FF0000","#F79646","#7F7F7F","#00B0F0"]},"legend":{"orient":"none","legendX":-192,"legendY":-20,"title":null,"strokeColor":"#000","fillColor":"#fff","padding":4,"symbolType":"M-5,0L5,0","symbolSize":64,"symbolOffset":18,"labelOffset":16,"symbolStrokeWidth":1.6,"labelFontSize":15,"rowPadding":4.7,"labelExpr":"datum.label == 'Meas' ? 'Meas.' : (datum.label == 'Sim' ? 'Sim.' : datum.label)"}},
"strokeDash":{"field":"k","type":"nominal","scale":{"domain":["Meas","Twtrgt","Sim","TCDU1","TCDU2","TCDU3","TCDM1","TCDM2","TCDM3","TCDL1","TCDL2","TCDL3","TCDS1","TCDS2","TCDS3","TCDdwn","SPILL","RRU","RRM","RRL"],"range":[[1,0],[1,0],[3,2],[1.5,2],[4,2],[7,5],[1.5,2],[4,2],[7,5],[1.5,2],[4,2],[7,5],[1.5,2],[4,2],[7,5],[1,0],[1,0],[1,0],[1,0],[1,0]]},"legend":{"orient":"none","legendX":-192,"legendY":-20,"title":null,"strokeColor":"#000","fillColor":"#fff","padding":4,"symbolType":"M-5,0L5,0","symbolSize":64,"symbolOffset":18,"labelOffset":16,"symbolStrokeWidth":1.6,"labelFontSize":15,"rowPadding":4.7,"labelExpr":"datum.label == 'Meas' ? 'Meas.' : (datum.label == 'Sim' ? 'Sim.' : datum.label)"}}
}
}
],
"resolve":{"scale":{"y":"independent"}}
},
{
"width":1050,"height":405,
"layer":[
{
"data":{"values":[
{"a":2.4,"b":198,"y":3.84,"p":"M1"},{"a":2.4,"b":162,"y":3.92,"p":"M2"},{"a":2.4,"b":161,"y":4.0,"p":"M3"},{"a":2.4,"b":161,"y":4.08,"p":"M4"},{"a":2.4,"b":203,"y":4.16,"p":"M5"},
{"a":0,"b":3.8,"y":2.84,"p":"L1"},{"a":0,"b":3.8,"y":2.92,"p":"L2"},{"a":0,"b":3.8,"y":3.0,"p":"L3"},{"a":0,"b":3.8,"y":3.08,"p":"L4"},{"a":0,"b":3.8,"y":3.16,"p":"L5"},
{"a":178,"b":224,"y":2.84,"p":"L1"},{"a":162.7,"b":224,"y":2.92,"p":"L2"},{"a":159,"b":224,"y":3.0,"p":"L3"},{"a":146,"b":222,"y":3.08,"p":"L4"},{"a":187,"b":221.5,"y":3.16,"p":"L5"},
{"a":351.5,"b":364.8,"y":2.84,"p":"L1"},{"a":351.5,"b":364.8,"y":2.92,"p":"L2"},{"a":351.5,"b":364.8,"y":3.0,"p":"L3"},{"a":351.5,"b":364.8,"y":3.08,"p":"L4"},{"a":351.5,"b":364.8,"y":3.16,"p":"L5"},
{"a":215.8,"b":352.8,"y":1.96,"p":"S1"},{"a":222.8,"b":352.8,"y":2.04,"p":"S2"}
]},
"mark":{"type":"rule","strokeWidth":5,"strokeCap":"butt"},
"encoding":{
"x":{"field":"a","type":"quantitative","scale":{"domain":[0,368.5],"nice":false,"zero":false},"axis":{"values":[0,30.4167,60.8333,91.25,121.6667,152.0833,182.5,212.9167,243.3333,273.75,304.1667,334.5833,365],"labels":false,"title":null,"grid":true,"tickSize":5}},
"x2":{"field":"b"},
"y":{"field":"y","type":"quantitative","scale":{"domain":[0,6],"nice":false,"zero":false},"axis":{"values":[1,2,3,4,5],"labelExpr":"['','Penstocks','TCDS','TCDL','TCDM','TCDU'][datum.value]","labelAngle":270,"labelFontSize":12,"title":"TCD Gates & Penstocks Conditions","titleFontSize":12,"grid":true,"ticks":false,"labelPadding":4,"titlePadding":8}},
"color":{"field":"p","type":"nominal","scale":{"domain":["Pen. 1","Pen. 2","Pen. 3","Pen. 4","Pen. 5","U1","U2","U3","U4","U5","M1","M2","M3","M4","M5","L1","L2","L3","L4","L5","S1","S2"],"range":["#1F497D","#C0504D","#9BBB59","#8064A2","#4BACC6","#1F497D","#C0504D","#9BBB59","#8064A2","#4BACC6","#1F497D","#C0504D","#9BBB59","#8064A2","#4BACC6","#1F497D","#C0504D","#9BBB59","#8064A2","#4BACC6","#4BACC6","#8064A2"]},"legend":null}
}
},
{
"data":{"values":[
{"a":0,"b":16,"y":1.48,"p":"Pen. 5"},{"a":0,"b":113,"y":0.5,"p":"Pen. 5"},{"a":124,"b":364.5,"y":0.5,"p":"Pen. 5"},{"a":110,"b":124,"y":0.68,"p":"Pen. 5"},{"a":0,"b":50,"y":0.53,"p":"Pen. 4"}
]},
"mark":{"type":"rule","strokeWidth":2.5,"strokeCap":"butt"},
"encoding":{
"x":{"field":"a","type":"quantitative","scale":{"domain":[0,368.5],"nice":false,"zero":false}},
"x2":{"field":"b"},
"y":{"field":"y","type":"quantitative","scale":{"domain":[0,6],"nice":false,"zero":false}},
"color":{"field":"p","type":"nominal","scale":{"domain":["Pen. 1","Pen. 2","Pen. 3","Pen. 4","Pen. 5","U1","U2","U3","U4","U5","M1","M2","M3","M4","M5","L1","L2","L3","L4","L5","S1","S2"],"range":["#1F497D","#C0504D","#9BBB59","#8064A2","#4BACC6","#1F497D","#C0504D","#9BBB59","#8064A2","#4BACC6","#1F497D","#C0504D","#9BBB59","#8064A2","#4BACC6","#1F497D","#C0504D","#9BBB59","#8064A2","#4BACC6","#4BACC6","#8064A2"]},"legend":null}
}
},
{
"data":{"values":[
{"a":8,"b":105,"y":1.0,"p":"Pen. 4"},{"a":15,"b":110,"y":0.83,"p":"Pen. 1"},{"a":120,"b":200,"y":0.86,"p":"Pen. 4"},{"a":220,"b":300,"y":0.8,"p":"Pen. 4"}
]},
"mark":{"type":"rule","strokeWidth":1.5,"strokeDash":[5,3],"strokeCap":"butt"},
"encoding":{
"x":{"field":"a","type":"quantitative","scale":{"domain":[0,368.5],"nice":false,"zero":false}},
"x2":{"field":"b"},
"y":{"field":"y","type":"quantitative","scale":{"domain":[0,6],"nice":false,"zero":false}},
"color":{"field":"p","type":"nominal","scale":{"domain":["Pen. 1","Pen. 2","Pen. 3","Pen. 4","Pen. 5","U1","U2","U3","U4","U5","M1","M2","M3","M4","M5","L1","L2","L3","L4","L5","S1","S2"],"range":["#1F497D","#C0504D","#9BBB59","#8064A2","#4BACC6","#1F497D","#C0504D","#9BBB59","#8064A2","#4BACC6","#1F497D","#C0504D","#9BBB59","#8064A2","#4BACC6","#1F497D","#C0504D","#9BBB59","#8064A2","#4BACC6","#4BACC6","#8064A2"]},"legend":null}
}
},
{
"data":{"values":[
{"d":5,"p":"Pen. 1","y":1.46},{"d":14,"p":"Pen. 1","y":1.0},{"d":22,"p":"Pen. 1","y":1.44},{"d":30,"p":"Pen. 1","y":0.86},{"d":38,"p":"Pen. 1","y":1.47},{"d":47,"p":"Pen. 1","y":1.02},{"d":55,"p":"Pen. 1","y":1.3},{"d":63,"p":"Pen. 1","y":0.98},{"d":70,"p":"Pen. 1","y":1.46},{"d":78,"p":"Pen. 1","y":0.8},{"d":86,"p":"Pen. 1","y":1.4},{"d":95,"p":"Pen. 1","y":1.01},{"d":103,"p":"Pen. 1","y":0.75},{"d":110,"p":"Pen. 1","y":1.25},{"d":132,"p":"Pen. 1","y":0.9},{"d":140,"p":"Pen. 1","y":1.46},{"d":150,"p":"Pen. 1","y":1.05},{"d":160,"p":"Pen. 1","y":0.7},{"d":170,"p":"Pen. 1","y":1.46},{"d":178,"p":"Pen. 1","y":1.43},{"d":185,"p":"Pen. 1","y":0.95},{"d":193,"p":"Pen. 1","y":1.47},{"d":200,"p":"Pen. 1","y":1.1},{"d":208,"p":"Pen. 1","y":0.62},{"d":218,"p":"Pen. 1","y":1.46},{"d":232,"p":"Pen. 1","y":0.85},{"d":255,"p":"Pen. 1","y":1.0},{"d":280,"p":"Pen. 1","y":0.9},{"d":300,"p":"Pen. 1","y":1.46},{"d":305,"p":"Pen. 1","y":1.2},{"d":312,"p":"Pen. 1","y":0.95},{"d":318,"p":"Pen. 1","y":1.47},{"d":322,"p":"Pen. 1","y":1.46},{"d":325,"p":"Pen. 1","y":1.35},{"d":328,"p":"Pen. 1","y":1.47},{"d":330,"p":"Pen. 1","y":1.1},{"d":334,"p":"Pen. 1","y":1.3},{"d":337,"p":"Pen. 1","y":0.88},{"d":340,"p":"Pen. 1","y":1.46},{"d":343,"p":"Pen. 1","y":1.2},{"d":346,"p":"Pen. 1","y":0.75},{"d":350,"p":"Pen. 1","y":1.0},{"d":355,"p":"Pen. 1","y":1.44},{"d":360,"p":"Pen. 1","y":1.47},{"d":363,"p":"Pen. 1","y":0.9},
{"d":2,"p":"Pen. 1","y":1.47},{"d":10,"p":"Pen. 1","y":1.45},{"d":18,"p":"Pen. 1","y":1.47},{"d":27,"p":"Pen. 1","y":1.0},{"d":34,"p":"Pen. 1","y":1.46},{"d":43,"p":"Pen. 1","y":0.9},{"d":51,"p":"Pen. 1","y":1.47},{"d":59,"p":"Pen. 1","y":0.83},{"d":67,"p":"Pen. 1","y":1.45},{"d":74,"p":"Pen. 1","y":1.05},{"d":82,"p":"Pen. 1","y":1.47},{"d":90,"p":"Pen. 1","y":0.83},{"d":99,"p":"Pen. 1","y":1.46},{"d":106,"p":"Pen. 1","y":1.0},{"d":115,"p":"Pen. 1","y":0.85},{"d":121,"p":"Pen. 1","y":1.3},{"d":129,"p":"Pen. 1","y":1.46},{"d":136,"p":"Pen. 1","y":0.95},{"d":145,"p":"Pen. 1","y":1.2},{"d":155,"p":"Pen. 1","y":0.9},{"d":165,"p":"Pen. 1","y":1.46},{"d":175,"p":"Pen. 1","y":1.0},{"d":190,"p":"Pen. 1","y":0.8},{"d":203,"p":"Pen. 1","y":1.46},{"d":215,"p":"Pen. 1","y":1.0},{"d":228,"p":"Pen. 1","y":1.46},{"d":262,"p":"Pen. 1","y":0.85},{"d":292,"p":"Pen. 1","y":1.0},{"d":302,"p":"Pen. 1","y":1.47},{"d":308,"p":"Pen. 1","y":1.0},{"d":315,"p":"Pen. 1","y":1.46},{"d":320,"p":"Pen. 1","y":0.7},{"d":332,"p":"Pen. 1","y":1.47},{"d":336,"p":"Pen. 1","y":1.46},{"d":339,"p":"Pen. 1","y":1.2},{"d":342,"p":"Pen. 1","y":1.47},{"d":348,"p":"Pen. 1","y":1.46},{"d":352,"p":"Pen. 1","y":1.3},{"d":357,"p":"Pen. 1","y":0.9},{"d":361,"p":"Pen. 1","y":1.2},
{"d":8,"p":"Pen. 2","y":1.47},{"d":18,"p":"Pen. 2","y":0.98},{"d":26,"p":"Pen. 2","y":1.45},{"d":33,"p":"Pen. 2","y":1.2},{"d":41,"p":"Pen. 2","y":0.7},{"d":50,"p":"Pen. 2","y":1.46},{"d":58,"p":"Pen. 2","y":1.0},{"d":66,"p":"Pen. 2","y":1.15},{"d":74,"p":"Pen. 2","y":1.47},{"d":82,"p":"Pen. 2","y":0.95},{"d":90,"p":"Pen. 2","y":1.3},{"d":98,"p":"Pen. 2","y":0.8},{"d":106,"p":"Pen. 2","y":1.45},{"d":113,"p":"Pen. 2","y":1.1},{"d":118,"p":"Pen. 2","y":0.98},{"d":124,"p":"Pen. 2","y":1.25},{"d":128,"p":"Pen. 2","y":1.47},{"d":133,"p":"Pen. 2","y":1.0},{"d":137,"p":"Pen. 2","y":1.35},{"d":142,"p":"Pen. 2","y":0.9},{"d":146,"p":"Pen. 2","y":1.46},{"d":151,"p":"Pen. 2","y":1.2},{"d":156,"p":"Pen. 2","y":0.78},{"d":162,"p":"Pen. 2","y":1.0},{"d":168,"p":"Pen. 2","y":1.46},{"d":175,"p":"Pen. 2","y":0.85},{"d":182,"p":"Pen. 2","y":1.1},{"d":190,"p":"Pen. 2","y":0.95},{"d":198,"p":"Pen. 2","y":1.46},{"d":206,"p":"Pen. 2","y":0.9},{"d":214,"p":"Pen. 2","y":1.05},{"d":222,"p":"Pen. 2","y":1.46},{"d":240,"p":"Pen. 2","y":0.7},{"d":262,"p":"Pen. 2","y":0.95},{"d":288,"p":"Pen. 2","y":1.0},{"d":296,"p":"Pen. 2","y":1.45},{"d":302,"p":"Pen. 2","y":1.3},{"d":306,"p":"Pen. 2","y":0.9},{"d":310,"p":"Pen. 2","y":1.46},{"d":314,"p":"Pen. 2","y":1.1},{"d":317,"p":"Pen. 2","y":0.75},{"d":321,"p":"Pen. 2","y":1.4},{"d":326,"p":"Pen. 2","y":1.0},{"d":331,"p":"Pen. 2","y":1.46},{"d":336,"p":"Pen. 2","y":1.2},{"d":341,"p":"Pen. 2","y":0.85},{"d":345,"p":"Pen. 2","y":1.45},{"d":349,"p":"Pen. 2","y":1.1},{"d":353,"p":"Pen. 2","y":0.95},{"d":358,"p":"Pen. 2","y":1.3},{"d":362,"p":"Pen. 2","y":1.46},
{"d":3,"p":"Pen. 2","y":1.46},{"d":13,"p":"Pen. 2","y":1.2},{"d":22,"p":"Pen. 2","y":1.47},{"d":30,"p":"Pen. 2","y":0.95},{"d":37,"p":"Pen. 2","y":1.46},{"d":45,"p":"Pen. 2","y":1.05},{"d":54,"p":"Pen. 2","y":1.47},{"d":62,"p":"Pen. 2","y":0.9},{"d":70,"p":"Pen. 2","y":1.46},{"d":78,"p":"Pen. 2","y":1.2},{"d":86,"p":"Pen. 2","y":1.47},{"d":94,"p":"Pen. 2","y":1.0},{"d":102,"p":"Pen. 2","y":0.9},{"d":110,"p":"Pen. 2","y":1.47},{"d":116,"p":"Pen. 2","y":0.85},{"d":122,"p":"Pen. 2","y":1.46},{"d":126,"p":"Pen. 2","y":1.0},{"d":131,"p":"Pen. 2","y":0.9},{"d":135,"p":"Pen. 2","y":1.46},{"d":140,"p":"Pen. 2","y":1.1},{"d":144,"p":"Pen. 2","y":1.46},{"d":148,"p":"Pen. 2","y":0.95},{"d":153,"p":"Pen. 2","y":1.46},{"d":159,"p":"Pen. 2","y":1.05},{"d":165,"p":"Pen. 2","y":1.3},{"d":172,"p":"Pen. 2","y":1.0},{"d":179,"p":"Pen. 2","y":1.46},{"d":186,"p":"Pen. 2","y":0.9},{"d":194,"p":"Pen. 2","y":1.05},{"d":202,"p":"Pen. 2","y":1.46},{"d":210,"p":"Pen. 2","y":0.85},{"d":300,"p":"Pen. 2","y":1.46},{"d":304,"p":"Pen. 2","y":1.1},{"d":308,"p":"Pen. 2","y":1.46},{"d":312,"p":"Pen. 2","y":0.95},{"d":319,"p":"Pen. 2","y":1.46},{"d":323,"p":"Pen. 2","y":1.2},{"d":328,"p":"Pen. 2","y":0.9},{"d":333,"p":"Pen. 2","y":1.46},{"d":338,"p":"Pen. 2","y":1.0},{"d":343,"p":"Pen. 2","y":1.46},{"d":347,"p":"Pen. 2","y":1.3},{"d":351,"p":"Pen. 2","y":1.46},{"d":355,"p":"Pen. 2","y":0.8},{"d":360,"p":"Pen. 2","y":1.05},
{"d":11,"p":"Pen. 3","y":1.46},{"d":20,"p":"Pen. 3","y":1.0},{"d":28,"p":"Pen. 3","y":0.72},{"d":36,"p":"Pen. 3","y":1.46},{"d":44,"p":"Pen. 3","y":1.1},{"d":52,"p":"Pen. 3","y":0.98},{"d":60,"p":"Pen. 3","y":1.45},{"d":68,"p":"Pen. 3","y":0.75},{"d":76,"p":"Pen. 3","y":1.3},{"d":84,"p":"Pen. 3","y":1.0},{"d":92,"p":"Pen. 3","y":1.46},{"d":100,"p":"Pen. 3","y":1.2},{"d":108,"p":"Pen. 3","y":0.95},{"d":115,"p":"Pen. 3","y":1.47},{"d":121,"p":"Pen. 3","y":1.0},{"d":126,"p":"Pen. 3","y":0.8},{"d":131,"p":"Pen. 3","y":1.46},{"d":136,"p":"Pen. 3","y":1.0},{"d":141,"p":"Pen. 3","y":0.85},{"d":145,"p":"Pen. 3","y":1.45},{"d":149,"p":"Pen. 3","y":1.02},{"d":154,"p":"Pen. 3","y":0.95},{"d":159,"p":"Pen. 3","y":1.46},{"d":164,"p":"Pen. 3","y":0.88},{"d":171,"p":"Pen. 3","y":1.0},{"d":180,"p":"Pen. 3","y":0.76},{"d":188,"p":"Pen. 3","y":1.45},{"d":196,"p":"Pen. 3","y":0.9},{"d":204,"p":"Pen. 3","y":1.05},{"d":212,"p":"Pen. 3","y":0.58},{"d":226,"p":"Pen. 3","y":0.55},{"d":245,"p":"Pen. 3","y":0.56},{"d":270,"p":"Pen. 3","y":0.55},{"d":294,"p":"Pen. 3","y":0.7},{"d":299,"p":"Pen. 3","y":1.46},{"d":303,"p":"Pen. 3","y":1.0},{"d":308,"p":"Pen. 3","y":1.2},{"d":313,"p":"Pen. 3","y":1.46},{"d":316,"p":"Pen. 3","y":0.9},{"d":320,"p":"Pen. 3","y":1.05},{"d":324,"p":"Pen. 3","y":1.46},{"d":329,"p":"Pen. 3","y":0.8},{"d":333,"p":"Pen. 3","y":1.3},{"d":338,"p":"Pen. 3","y":1.46},{"d":342,"p":"Pen. 3","y":1.0},{"d":347,"p":"Pen. 3","y":0.7},{"d":351,"p":"Pen. 3","y":1.46},{"d":356,"p":"Pen. 3","y":1.1},{"d":361,"p":"Pen. 3","y":0.6},{"d":364,"p":"Pen. 3","y":1.46},
{"d":6,"p":"Pen. 3","y":1.47},{"d":15,"p":"Pen. 3","y":1.46},{"d":24,"p":"Pen. 3","y":1.05},{"d":32,"p":"Pen. 3","y":1.47},{"d":40,"p":"Pen. 3","y":0.9},{"d":48,"p":"Pen. 3","y":1.46},{"d":56,"p":"Pen. 3","y":1.1},{"d":64,"p":"Pen. 3","y":1.47},{"d":72,"p":"Pen. 3","y":0.95},{"d":80,"p":"Pen. 3","y":1.46},{"d":88,"p":"Pen. 3","y":1.1},{"d":96,"p":"Pen. 3","y":0.9},{"d":104,"p":"Pen. 3","y":1.46},{"d":112,"p":"Pen. 3","y":1.0},{"d":118,"p":"Pen. 3","y":1.46},{"d":124,"p":"Pen. 3","y":1.1},{"d":129,"p":"Pen. 3","y":1.46},{"d":134,"p":"Pen. 3","y":0.9},{"d":139,"p":"Pen. 3","y":1.46},{"d":143,"p":"Pen. 3","y":1.05},{"d":147,"p":"Pen. 3","y":1.46},{"d":152,"p":"Pen. 3","y":0.85},{"d":157,"p":"Pen. 3","y":1.2},{"d":162,"p":"Pen. 3","y":1.46},{"d":167,"p":"Pen. 3","y":1.0},{"d":175,"p":"Pen. 3","y":1.46},{"d":184,"p":"Pen. 3","y":0.95},{"d":192,"p":"Pen. 3","y":1.46},{"d":200,"p":"Pen. 3","y":0.8},{"d":208,"p":"Pen. 3","y":1.46},{"d":216,"p":"Pen. 3","y":0.55},{"d":235,"p":"Pen. 3","y":0.55},{"d":258,"p":"Pen. 3","y":0.56},{"d":283,"p":"Pen. 3","y":0.55},{"d":297,"p":"Pen. 3","y":1.0},{"d":301,"p":"Pen. 3","y":1.46},{"d":306,"p":"Pen. 3","y":0.8},{"d":311,"p":"Pen. 3","y":1.46},{"d":318,"p":"Pen. 3","y":1.1},{"d":322,"p":"Pen. 3","y":1.46},{"d":327,"p":"Pen. 3","y":1.0},{"d":331,"p":"Pen. 3","y":1.46},{"d":336,"p":"Pen. 3","y":0.85},{"d":340,"p":"Pen. 3","y":1.46},{"d":345,"p":"Pen. 3","y":1.1},{"d":349,"p":"Pen. 3","y":1.46},{"d":354,"p":"Pen. 3","y":0.9},{"d":358,"p":"Pen. 3","y":1.46},{"d":363,"p":"Pen. 3","y":1.0},
{"d":3,"p":"Pen. 4","y":0.53},{"d":9,"p":"Pen. 4","y":1.02},{"d":16,"p":"Pen. 4","y":0.86},{"d":24,"p":"Pen. 4","y":1.46},{"d":32,"p":"Pen. 4","y":0.96},{"d":40,"p":"Pen. 4","y":0.55},{"d":48,"p":"Pen. 4","y":1.0},{"d":56,"p":"Pen. 4","y":0.82},{"d":64,"p":"Pen. 4","y":1.46},{"d":72,"p":"Pen. 4","y":1.0},{"d":80,"p":"Pen. 4","y":0.6},{"d":88,"p":"Pen. 4","y":0.85},{"d":96,"p":"Pen. 4","y":1.46},{"d":104,"p":"Pen. 4","y":0.98},{"d":112,"p":"Pen. 4","y":0.7},{"d":120,"p":"Pen. 4","y":0.9},{"d":127,"p":"Pen. 4","y":1.0},{"d":134,"p":"Pen. 4","y":0.8},{"d":139,"p":"Pen. 4","y":0.95},{"d":144,"p":"Pen. 4","y":0.78},{"d":148,"p":"Pen. 4","y":1.1},{"d":153,"p":"Pen. 4","y":0.85},{"d":158,"p":"Pen. 4","y":0.92},{"d":163,"p":"Pen. 4","y":0.7},{"d":169,"p":"Pen. 4","y":0.98},{"d":176,"p":"Pen. 4","y":0.82},{"d":184,"p":"Pen. 4","y":0.9},{"d":192,"p":"Pen. 4","y":0.72},{"d":200,"p":"Pen. 4","y":0.95},{"d":210,"p":"Pen. 4","y":0.8},{"d":220,"p":"Pen. 4","y":0.9},{"d":225,"p":"Pen. 4","y":0.75},{"d":230,"p":"Pen. 4","y":0.95},{"d":235,"p":"Pen. 4","y":0.7},{"d":240,"p":"Pen. 4","y":0.88},{"d":245,"p":"Pen. 4","y":0.78},{"d":250,"p":"Pen. 4","y":1.0},{"d":255,"p":"Pen. 4","y":0.72},{"d":260,"p":"Pen. 4","y":0.9},{"d":265,"p":"Pen. 4","y":0.8},{"d":270,"p":"Pen. 4","y":0.95},{"d":275,"p":"Pen. 4","y":0.7},{"d":280,"p":"Pen. 4","y":0.85},{"d":285,"p":"Pen. 4","y":0.75},{"d":290,"p":"Pen. 4","y":0.92},{"d":297,"p":"Pen. 4","y":0.8},{"d":304,"p":"Pen. 4","y":0.95},{"d":311,"p":"Pen. 4","y":0.6},{"d":319,"p":"Pen. 4","y":0.9},{"d":327,"p":"Pen. 4","y":0.75},{"d":335,"p":"Pen. 4","y":1.0},{"d":344,"p":"Pen. 4","y":0.8},{"d":352,"p":"Pen. 4","y":0.9},{"d":359,"p":"Pen. 4","y":0.7},
{"d":6,"p":"Pen. 4","y":0.53},{"d":12,"p":"Pen. 4","y":1.0},{"d":20,"p":"Pen. 4","y":0.85},{"d":28,"p":"Pen. 4","y":1.02},{"d":36,"p":"Pen. 4","y":0.55},{"d":44,"p":"Pen. 4","y":0.98},{"d":52,"p":"Pen. 4","y":0.86},{"d":60,"p":"Pen. 4","y":1.0},{"d":68,"p":"Pen. 4","y":0.84},{"d":76,"p":"Pen. 4","y":1.46},{"d":84,"p":"Pen. 4","y":1.0},{"d":92,"p":"Pen. 4","y":0.86},{"d":100,"p":"Pen. 4","y":0.95},{"d":108,"p":"Pen. 4","y":0.6},{"d":116,"p":"Pen. 4","y":0.85},{"d":123,"p":"Pen. 4","y":1.05},{"d":130,"p":"Pen. 4","y":0.88},{"d":137,"p":"Pen. 4","y":1.0},{"d":141,"p":"Pen. 4","y":0.9},{"d":146,"p":"Pen. 4","y":0.85},{"d":151,"p":"Pen. 4","y":1.0},{"d":156,"p":"Pen. 4","y":0.8},{"d":161,"p":"Pen. 4","y":0.95},{"d":166,"p":"Pen. 4","y":0.85},{"d":172,"p":"Pen. 4","y":0.9},{"d":180,"p":"Pen. 4","y":0.75},{"d":188,"p":"Pen. 4","y":0.95},{"d":196,"p":"Pen. 4","y":0.8},{"d":205,"p":"Pen. 4","y":0.9},{"d":215,"p":"Pen. 4","y":0.85},{"d":222,"p":"Pen. 4","y":0.95},{"d":227,"p":"Pen. 4","y":0.82},{"d":232,"p":"Pen. 4","y":0.7},{"d":238,"p":"Pen. 4","y":0.92},{"d":243,"p":"Pen. 4","y":0.8},{"d":248,"p":"Pen. 4","y":0.95},{"d":253,"p":"Pen. 4","y":0.85},{"d":258,"p":"Pen. 4","y":0.78},{"d":263,"p":"Pen. 4","y":1.0},{"d":268,"p":"Pen. 4","y":0.84},{"d":273,"p":"Pen. 4","y":0.76},{"d":278,"p":"Pen. 4","y":0.95},{"d":283,"p":"Pen. 4","y":0.82},{"d":288,"p":"Pen. 4","y":0.7},{"d":293,"p":"Pen. 4","y":0.85},{"d":300,"p":"Pen. 4","y":0.9},{"d":308,"p":"Pen. 4","y":0.8},{"d":315,"p":"Pen. 4","y":0.95},{"d":323,"p":"Pen. 4","y":0.7},{"d":331,"p":"Pen. 4","y":0.88},{"d":340,"p":"Pen. 4","y":0.95},{"d":348,"p":"Pen. 4","y":0.75},{"d":356,"p":"Pen. 4","y":0.85},{"d":362,"p":"Pen. 4","y":1.0},
{"d":2,"p":"Pen. 5","y":1.4},{"d":6,"p":"Pen. 5","y":1.3},{"d":12,"p":"Pen. 5","y":1.38},{"d":19,"p":"Pen. 5","y":0.84},{"d":27,"p":"Pen. 5","y":1.2},{"d":35,"p":"Pen. 5","y":1.0},{"d":43,"p":"Pen. 5","y":1.46},{"d":51,"p":"Pen. 5","y":0.84},{"d":59,"p":"Pen. 5","y":1.1},{"d":67,"p":"Pen. 5","y":0.84},{"d":75,"p":"Pen. 5","y":1.0},{"d":83,"p":"Pen. 5","y":0.84},{"d":91,"p":"Pen. 5","y":1.46},{"d":99,"p":"Pen. 5","y":0.6},{"d":107,"p":"Pen. 5","y":0.7},{"d":117,"p":"Pen. 5","y":0.69},{"d":123,"p":"Pen. 5","y":0.7},{"d":130,"p":"Pen. 5","y":0.95},{"d":138,"p":"Pen. 5","y":1.46},{"d":143,"p":"Pen. 5","y":0.85},{"d":152,"p":"Pen. 5","y":1.0},{"d":157,"p":"Pen. 5","y":1.46},{"d":165,"p":"Pen. 5","y":0.9},{"d":173,"p":"Pen. 5","y":1.05},{"d":181,"p":"Pen. 5","y":0.88},{"d":189,"p":"Pen. 5","y":1.0},{"d":197,"p":"Pen. 5","y":0.85},{"d":205,"p":"Pen. 5","y":1.46},{"d":213,"p":"Pen. 5","y":0.95},{"d":219,"p":"Pen. 5","y":1.3},{"d":224,"p":"Pen. 5","y":1.2},{"d":228,"p":"Pen. 5","y":1.46},{"d":233,"p":"Pen. 5","y":1.1},{"d":237,"p":"Pen. 5","y":1.35},{"d":242,"p":"Pen. 5","y":1.0},{"d":247,"p":"Pen. 5","y":1.25},{"d":252,"p":"Pen. 5","y":1.4},{"d":257,"p":"Pen. 5","y":1.15},{"d":261,"p":"Pen. 5","y":1.3},{"d":266,"p":"Pen. 5","y":1.46},{"d":271,"p":"Pen. 5","y":1.2},{"d":276,"p":"Pen. 5","y":1.35},{"d":281,"p":"Pen. 5","y":1.1},{"d":286,"p":"Pen. 5","y":1.4},{"d":291,"p":"Pen. 5","y":1.25},{"d":295,"p":"Pen. 5","y":1.46},{"d":300,"p":"Pen. 5","y":1.05},{"d":309,"p":"Pen. 5","y":0.95},{"d":315,"p":"Pen. 5","y":1.0},{"d":323,"p":"Pen. 5","y":1.2},{"d":332,"p":"Pen. 5","y":0.9},{"d":339,"p":"Pen. 5","y":1.0},{"d":348,"p":"Pen. 5","y":0.95},{"d":357,"p":"Pen. 5","y":1.1},
{"d":4,"p":"Pen. 5","y":1.47},{"d":9,"p":"Pen. 5","y":1.2},{"d":16,"p":"Pen. 5","y":1.47},{"d":23,"p":"Pen. 5","y":1.0},{"d":31,"p":"Pen. 5","y":0.84},{"d":39,"p":"Pen. 5","y":1.1},{"d":47,"p":"Pen. 5","y":1.0},{"d":55,"p":"Pen. 5","y":0.84},{"d":63,"p":"Pen. 5","y":1.2},{"d":71,"p":"Pen. 5","y":0.84},{"d":79,"p":"Pen. 5","y":1.05},{"d":87,"p":"Pen. 5","y":1.2},{"d":95,"p":"Pen. 5","y":0.84},{"d":103,"p":"Pen. 5","y":0.65},{"d":113,"p":"Pen. 5","y":0.69},{"d":120,"p":"Pen. 5","y":0.68},{"d":127,"p":"Pen. 5","y":1.0},{"d":134,"p":"Pen. 5","y":0.9},{"d":148,"p":"Pen. 5","y":0.95},{"d":161,"p":"Pen. 5","y":1.0},{"d":169,"p":"Pen. 5","y":0.85},{"d":177,"p":"Pen. 5","y":1.46},{"d":185,"p":"Pen. 5","y":0.95},{"d":193,"p":"Pen. 5","y":1.0},{"d":201,"p":"Pen. 5","y":0.9},{"d":209,"p":"Pen. 5","y":1.1},{"d":216,"p":"Pen. 5","y":1.46},{"d":221,"p":"Pen. 5","y":1.4},{"d":226,"p":"Pen. 5","y":1.3},{"d":231,"p":"Pen. 5","y":1.46},{"d":235,"p":"Pen. 5","y":1.2},{"d":240,"p":"Pen. 5","y":1.4},{"d":244,"p":"Pen. 5","y":1.3},{"d":249,"p":"Pen. 5","y":1.45},{"d":254,"p":"Pen. 5","y":1.2},{"d":259,"p":"Pen. 5","y":1.4},{"d":263,"p":"Pen. 5","y":1.35},{"d":268,"p":"Pen. 5","y":1.3},{"d":273,"p":"Pen. 5","y":1.45},{"d":278,"p":"Pen. 5","y":1.2},{"d":283,"p":"Pen. 5","y":1.35},{"d":288,"p":"Pen. 5","y":1.3},{"d":293,"p":"Pen. 5","y":1.2},{"d":298,"p":"Pen. 5","y":1.4},{"d":305,"p":"Pen. 5","y":1.1},{"d":312,"p":"Pen. 5","y":1.2},{"d":320,"p":"Pen. 5","y":1.0},{"d":328,"p":"Pen. 5","y":1.05},{"d":336,"p":"Pen. 5","y":1.2},{"d":344,"p":"Pen. 5","y":1.0},{"d":352,"p":"Pen. 5","y":0.9},{"d":360,"p":"Pen. 5","y":1.1}
]},
"mark":{"type":"point","filled":true,"size":12,"opacity":0.9},
"encoding":{
"x":{"field":"d","type":"quantitative","scale":{"domain":[0,368.5],"nice":false,"zero":false}},
"y":{"field":"y","type":"quantitative","scale":{"domain":[0,6],"nice":false,"zero":false}},
"color":{"field":"p","type":"nominal","scale":{"domain":["Pen. 1","Pen. 2","Pen. 3","Pen. 4","Pen. 5","U1","U2","U3","U4","U5","M1","M2","M3","M4","M5","L1","L2","L3","L4","L5","S1","S2"],"range":["#1F497D","#C0504D","#9BBB59","#8064A2","#4BACC6","#1F497D","#C0504D","#9BBB59","#8064A2","#4BACC6","#1F497D","#C0504D","#9BBB59","#8064A2","#4BACC6","#1F497D","#C0504D","#9BBB59","#8064A2","#4BACC6","#4BACC6","#8064A2"]},"legend":{"orient":"none","legendX":1058,"legendY":0,"title":null,"strokeColor":"#404040","fillColor":"#fff","padding":4,"labelFontSize":12,"rowPadding":6.2,"symbolSize":32,"labelOffset":8,"symbolStrokeWidth":0}},
"shape":{"field":"p","type":"nominal","scale":{"domain":["Pen. 1","Pen. 2","Pen. 3","Pen. 4","Pen. 5","U1","U2","U3","U4","U5","M1","M2","M3","M4","M5","L1","L2","L3","L4","L5","S1","S2"],"range":["circle","circle","circle","circle","circle","diamond","diamond","diamond","diamond","diamond","square","square","square","square","square","triangle-up","triangle-up","triangle-up","triangle-up","triangle-up","circle","circle"]},"legend":{"orient":"none","legendX":1058,"legendY":0,"title":null,"strokeColor":"#404040","fillColor":"#fff","padding":4,"labelFontSize":12,"rowPadding":6.2,"symbolSize":32,"labelOffset":8,"symbolStrokeWidth":0}}
}
}
],
"resolve":{"scale":{"color":"independent","shape":"independent"},"legend":{"color":"independent","shape":"independent"}}
},
{
"width":1050,"height":405,
"layer":[
{
"data":{"values":[
{"d":0,"k":"TCDUupp.","v":1042},{"d":364.5,"k":"TCDUupp.","v":1042},{"d":0,"k":"TCDUlow.","v":1000},{"d":364.5,"k":"TCDUlow.","v":1000},{"d":0,"k":"TCDMupp.","v":942},{"d":364.5,"k":"TCDMupp.","v":942},{"d":0,"k":"TCDMlow.","v":900},{"d":364.5,"k":"TCDMlow.","v":900},{"d":0,"k":"TCDLupp.","v":830},{"d":364.5,"k":"TCDLupp.","v":830},{"d":0,"k":"TCDlow.","v":802},{"d":364.5,"k":"TCDlow.","v":802},{"d":0,"k":"TCDSupp.","v":890},{"d":364.5,"k":"TCDSupp.","v":890},{"d":0,"k":"TCDSlow.","v":720},{"d":364.5,"k":"TCDSlow.","v":720}
]},
"mark":{"type":"line","strokeWidth":1.5},
"encoding":{
"x":{"field":"d","type":"quantitative","scale":{"domain":[0,368.5],"nice":false,"zero":false},"axis":{"values":[0,30.4167,60.8333,91.25,121.6667,152.0833,182.5,212.9167,243.3333,273.75,304.1667,334.5833,365],"labelExpr":"['01/01/21','01/31/21','03/02/21','04/02/21','05/02/21','06/02/21','07/02/21','08/02/21','09/01/21','10/02/21','11/01/21','12/01/21','01/01/22'][round(datum.value/30.4167)]","labelAngle":270,"labelFont":"DejaVu Sans","labelFontSize":11,"labelFontWeight":"bold","title":null,"grid":true,"tickSize":5,"labelPadding":3}},
"y":{"field":"v","type":"quantitative","scale":{"domain":[700,1150],"nice":false,"zero":false},"axis":{"values":[700,750,800,850,900,950,1000,1050,1100,1150],"format":"d","grid":false,"title":"Elevation, ft","labelFontSize":12,"titleFontSize":12,"tickSize":4,"labelPadding":10,"titlePadding":12}},
"color":{"field":"k","type":"nominal","scale":{"domain":["WS.","TCDUupp.","TCDUlow.","TCDMupp.","TCDMlow.","TCDLupp.","TCDlow.","TCDSupp.","TCDSlow."],"range":["#4F81BD","#000000","#000000","#404040","#404040","#000000","#000000","#FF0000","#FF0000"]},"legend":{"orient":"none","legendX":6,"legendY":-5,"direction":"horizontal","columns":9,"title":null,"strokeColor":"#000","fillColor":"#fff","padding":9,"symbolType":"M-5,0L5,0","symbolSize":36,"symbolOffset":22,"labelOffset":9,"symbolStrokeWidth":1.8,"labelFontSize":12,"columnPadding":15}},
"strokeDash":{"field":"k","type":"nominal","scale":{"domain":["WS.","TCDUupp.","TCDUlow.","TCDMupp.","TCDMlow.","TCDLupp.","TCDlow.","TCDSupp.","TCDSlow."],"range":[[1,0],[1,0],[1,0],[1.5,1.5],[1.5,1.5],[4,2],[4,2],[4,2],[4,2]]},"legend":{"orient":"none","legendX":6,"legendY":-5,"direction":"horizontal","columns":9,"title":null,"strokeColor":"#000","fillColor":"#fff","padding":9,"symbolType":"M-5,0L5,0","symbolSize":36,"symbolOffset":22,"labelOffset":9,"symbolStrokeWidth":1.8,"labelFontSize":12,"columnPadding":15}}
}
},
{
"data":{"values":[
{"d":0,"k":"WS.","v":959},{"d":5,"k":"WS.","v":960},{"d":10,"k":"WS.","v":961},{"d":15,"k":"WS.","v":962},{"d":20,"k":"WS.","v":962.5},{"d":25,"k":"WS.","v":963},{"d":30,"k":"WS.","v":963},{"d":35,"k":"WS.","v":965},{"d":40,"k":"WS.","v":967},{"d":45,"k":"WS.","v":969},{"d":50,"k":"WS.","v":970},{"d":55,"k":"WS.","v":971},{"d":60,"k":"WS.","v":972},{"d":65,"k":"WS.","v":973},{"d":70,"k":"WS.","v":974},{"d":75,"k":"WS.","v":975},{"d":80,"k":"WS.","v":977},{"d":85,"k":"WS.","v":978},{"d":90,"k":"WS.","v":979},{"d":95,"k":"WS.","v":979.5},{"d":100,"k":"WS.","v":979.5},{"d":105,"k":"WS.","v":979},{"d":110,"k":"WS.","v":978},{"d":115,"k":"WS.","v":976},{"d":120,"k":"WS.","v":973},{"d":125,"k":"WS.","v":970},{"d":130,"k":"WS.","v":967},{"d":135,"k":"WS.","v":964},{"d":140,"k":"WS.","v":961},{"d":145,"k":"WS.","v":958},{"d":150,"k":"WS.","v":956},{"d":155,"k":"WS.","v":954},{"d":160,"k":"WS.","v":952},{"d":165,"k":"WS.","v":950},{"d":170,"k":"WS.","v":948},{"d":175,"k":"WS.","v":945},{"d":180,"k":"WS.","v":942},{"d":185,"k":"WS.","v":939},{"d":190,"k":"WS.","v":936},{"d":195,"k":"WS.","v":933},{"d":200,"k":"WS.","v":930},{"d":205,"k":"WS.","v":927},{"d":210,"k":"WS.","v":924},{"d":215,"k":"WS.","v":920},{"d":220,"k":"WS.","v":917},{"d":225,"k":"WS.","v":914},{"d":230,"k":"WS.","v":911},{"d":235,"k":"WS.","v":908},{"d":240,"k":"WS.","v":905},{"d":245,"k":"WS.","v":903},{"d":250,"k":"WS.","v":901},{"d":255,"k":"WS.","v":899},{"d":260,"k":"WS.","v":897},{"d":265,"k":"WS.","v":895},{"d":270,"k":"WS.","v":893},{"d":275,"k":"WS.","v":892},{"d":280,"k":"WS.","v":890},{"d":285,"k":"WS.","v":888},{"d":290,"k":"WS.","v":885},{"d":293,"k":"WS.","v":883},{"d":296,"k":"WS.","v":882},{"d":299,"k":"WS.","v":886},{"d":302,"k":"WS.","v":886},{"d":305,"k":"WS.","v":886},{"d":310,"k":"WS.","v":889},{"d":315,"k":"WS.","v":892},{"d":320,"k":"WS.","v":894},{"d":325,"k":"WS.","v":895},{"d":330,"k":"WS.","v":896},{"d":335,"k":"WS.","v":896},{"d":340,"k":"WS.","v":897},{"d":345,"k":"WS.","v":902},{"d":350,"k":"WS.","v":905},{"d":355,"k":"WS.","v":908},{"d":360,"k":"WS.","v":912},{"d":364,"k":"WS.","v":913}
]},
"mark":{"type":"line","strokeWidth":2.5},
"encoding":{
"x":{"field":"d","type":"quantitative","scale":{"domain":[0,368.5],"nice":false,"zero":false}},
"y":{"field":"v","type":"quantitative","scale":{"domain":[700,1150],"nice":false,"zero":false}},
"color":{"field":"k","type":"nominal","scale":{"domain":["WS.","TCDUupp.","TCDUlow.","TCDMupp.","TCDMlow.","TCDLupp.","TCDlow.","TCDSupp.","TCDSlow."],"range":["#4F81BD","#000000","#000000","#404040","#404040","#000000","#000000","#FF0000","#FF0000"]},"legend":{"orient":"none","legendX":6,"legendY":-5,"direction":"horizontal","columns":9,"title":null,"strokeColor":"#000","fillColor":"#fff","padding":9,"symbolType":"M-5,0L5,0","symbolSize":36,"symbolOffset":22,"labelOffset":9,"symbolStrokeWidth":1.8,"labelFontSize":12,"columnPadding":15}},
"strokeDash":{"field":"k","type":"nominal","scale":{"domain":["WS.","TCDUupp.","TCDUlow.","TCDMupp.","TCDMlow.","TCDLupp.","TCDlow.","TCDSupp.","TCDSlow."],"range":[[1,0],[1,0],[1,0],[1.5,1.5],[1.5,1.5],[4,2],[4,2],[4,2],[4,2]]},"legend":{"orient":"none","legendX":6,"legendY":-5,"direction":"horizontal","columns":9,"title":null,"strokeColor":"#000","fillColor":"#fff","padding":9,"symbolType":"M-5,0L5,0","symbolSize":36,"symbolOffset":22,"labelOffset":9,"symbolStrokeWidth":1.8,"labelFontSize":12,"columnPadding":15}}
}
}
]
}
]
}
